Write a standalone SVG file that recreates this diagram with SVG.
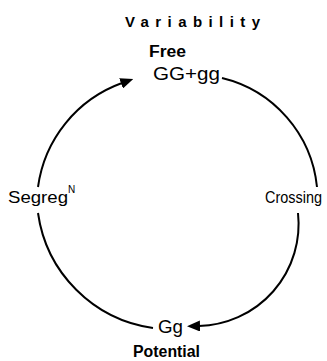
<svg xmlns="http://www.w3.org/2000/svg" width="327" height="361" viewBox="0 0 327 361">
  <style>
    text { font-family: "Liberation Sans", Arial, sans-serif; fill: #000; }
    .b { font-weight: bold; }
    .conn { fill: none; stroke: #000; stroke-width: 2; }
  </style>
  <defs>
    <marker id="arr" markerUnits="userSpaceOnUse" markerWidth="13" markerHeight="11" viewBox="0 0 13 11" refX="1" refY="5.5" orient="auto">
      <path d="M0,0 L13,5.5 L0,11 Z" fill="#000"/>
    </marker>
  </defs>
  <rect width="327" height="361" fill="#fff"/>
  <g id="title">
    <text class="b" x="125" y="27" font-size="15" textLength="135" lengthAdjust="spacing">Variability</text>
  </g>
  <g id="node-free">
    <text class="b" x="149" y="57" font-size="16" textLength="37" lengthAdjust="spacingAndGlyphs">Free</text>
    <text x="153" y="80" font-size="18" textLength="67" lengthAdjust="spacingAndGlyphs">GG+gg</text>
  </g>
  <g id="node-crossing">
    <text x="265" y="203" font-size="16" textLength="57" lengthAdjust="spacingAndGlyphs">Crossing</text>
  </g>
  <g id="node-potential">
    <text x="158" y="333" font-size="18" textLength="25" lengthAdjust="spacingAndGlyphs">Gg</text>
    <text class="b" x="133" y="357" font-size="16" textLength="67" lengthAdjust="spacingAndGlyphs">Potential</text>
  </g>
  <g id="node-segreg">
    <text x="8" y="203" font-size="17" textLength="60" lengthAdjust="spacingAndGlyphs">Segreg</text>
    <text x="68" y="193" font-size="10">N</text>
  </g>
  <g id="connectors">
    <path class="conn" d="M222,78 A125,125 0 0 1 317,187"/>
    <path class="conn" d="M298,213 A102,102 0 0 1 199,326" marker-end="url(#arr)"/>
    <path class="conn" d="M153,328 A135,135 0 0 1 38,213"/>
    <path class="conn" d="M38,187 A129,129 0 0 1 122,83" marker-end="url(#arr)"/>
  </g>
</svg>
